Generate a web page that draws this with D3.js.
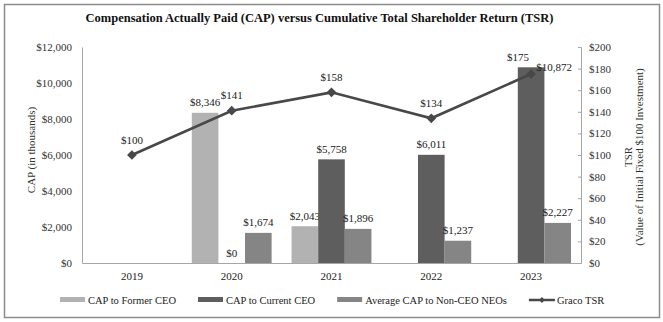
<!DOCTYPE html>
<html>
<head>
<meta charset="utf-8">
<script src="https://cdn.jsdelivr.net/npm/d3@7"></script>
<style>
  body { margin: 0; background: #fff; }
  svg { display: block; font-family: "Liberation Serif", "Times New Roman", serif; }
</style>
</head>
<body>
<div id="chart"></div>
<script>
// chart data
const years = ['2019', '2020', '2021', '2022', '2023'];
const capFormerCeo = [null, 8346, 2043, null, null];
const capCurrentCeo = [null, 0, 5758, 6011, 10872];
const capNonCeo = [null, 1674, 1896, 1237, 2227];
const tsr = [100, 141, 158, 134, 175];
const capTicks = [0, 2000, 4000, 6000, 8000, 10000, 12000];
const tsrTicks = [0, 20, 40, 60, 80, 100, 120, 140, 160, 180, 200];

const W = 663, H = 322;
const margin = {top: 47, right: 82, bottom: 59, left: 82};
const width = W - margin.left - margin.right;
const height = H - margin.top - margin.bottom;

const series = [
  {name: 'CAP to Former CEO', values: capFormerCeo, color: '#b2b2b2'},
  {name: 'CAP to Current CEO', values: capCurrentCeo, color: '#5e5e5e'},
  {name: 'Average CAP to Non-CEO NEOs', values: capNonCeo, color: '#858585'}
];
const lineColor = '#484848';
const fmt = d3.format(',');
const serif = '"Liberation Serif", "Times New Roman", serif';

const svg = d3.select('#chart').append('svg')
  .attr('width', W)
  .attr('height', H);

// frame
svg.append('rect')
  .attr('x', 4.5).attr('y', 4.5)
  .attr('width', W - 8).attr('height', H - 9)
  .attr('fill', '#fff')
  .attr('stroke', '#8c8c8c')
  .attr('stroke-width', 1.5);

svg.append('text')
  .attr('x', W / 2 - 12)
  .attr('y', 22)
  .attr('text-anchor', 'middle')
  .attr('font-size', 12.5)
  .attr('font-weight', 'bold')
  .attr('fill', '#111')
  .text('Compensation Actually Paid (CAP) versus Cumulative Total Shareholder Return (TSR)');

const g = svg.append('g')
  .attr('transform', 'translate(' + margin.left + ',' + margin.top + ')');

const x = d3.scaleBand()
  .domain(years)
  .range([0, width]);

const xInner = d3.scaleBand()
  .domain(series.map(s => s.name))
  .range([x.bandwidth() * 0.1, x.bandwidth() * 0.9]);

const yCap = d3.scaleLinear().domain([0, 12000]).range([height, 0]);
const yTsr = d3.scaleLinear().domain([0, 200]).range([height, 0]);

// left axis
const leftAxis = g.append('g')
  .call(d3.axisLeft(yCap).tickValues(capTicks).tickSize(0).tickPadding(10)
    .tickFormat(d => '$' + fmt(d)));
leftAxis.select('.domain').attr('stroke', '#a6a6a6');
leftAxis.selectAll('text').attr('font-size', 11).attr('fill', '#333')
  .attr('font-family', serif);

// right axis
const rightAxis = g.append('g')
  .attr('transform', 'translate(' + width + ',0)')
  .call(d3.axisRight(yTsr).tickValues(tsrTicks).tickSize(-3).tickPadding(8)
    .tickFormat(d => '$' + d));
rightAxis.select('.domain').attr('stroke', '#a6a6a6');
rightAxis.selectAll('line').attr('stroke', '#a6a6a6');
rightAxis.selectAll('text').attr('font-size', 11).attr('fill', '#333')
  .attr('font-family', serif);

// bottom axis
const bottomAxis = g.append('g')
  .attr('transform', 'translate(0,' + height + ')')
  .call(d3.axisBottom(x).tickSize(0).tickPadding(9));
bottomAxis.select('.domain').attr('stroke', '#a6a6a6');
bottomAxis.selectAll('text').attr('font-size', 11).attr('fill', '#222')
  .attr('font-family', serif);

// axis titles
svg.append('text')
  .attr('transform', 'translate(31,150) rotate(-90)')
  .attr('text-anchor', 'middle')
  .attr('dominant-baseline', 'central')
  .attr('font-size', 11)
  .attr('fill', '#333')
  .text('CAP (in thousands)');

const rt = svg.append('g')
  .attr('transform', 'translate(633,157) rotate(-90)')
  .attr('font-size', 11)
  .attr('fill', '#333');
rt.append('text').attr('y', -5).attr('text-anchor', 'middle')
  .attr('dominant-baseline', 'central').text('TSR');
rt.append('text').attr('y', 6).attr('text-anchor', 'middle')
  .attr('dominant-baseline', 'central').text('(Value of Initial Fixed $100 Investment)');

// bars
series.forEach((s, si) => {
  const data = years.map((yr, i) => ({yr, v: s.values[i], last: i === years.length - 1}))
    .filter(d => d.v !== null);

  g.selectAll('.bar' + si)
    .data(data)
    .enter().append('rect')
    .attr('x', d => x(d.yr) + xInner(s.name))
    .attr('y', d => yCap(d.v))
    .attr('width', xInner.bandwidth())
    .attr('height', d => height - yCap(d.v))
    .attr('fill', s.color);

  g.selectAll('.lbl' + si)
    .data(data)
    .enter().append('text')
    .attr('x', d => {
      const cx = x(d.yr) + xInner(s.name) + xInner.bandwidth() / 2;
      // tallest bar label moved right to clear the TSR label
      return d.last && si === 1 ? cx + 23 : cx;
    })
    .attr('y', d => d.last && si === 1 ? yCap(d.v) + 4 : yCap(d.v) - 6.5)
    .attr('text-anchor', 'middle')
    .attr('font-size', 11)
    .attr('fill', '#222')
    .text(d => '$' + fmt(d.v));
});

// TSR line
const line = d3.line()
  .x((d, i) => x(years[i]) + x.bandwidth() / 2)
  .y(d => yTsr(d));

g.append('path')
  .datum(tsr)
  .attr('fill', 'none')
  .attr('stroke', lineColor)
  .attr('stroke-width', 2.6)
  .attr('d', line);

const diamond = d3.symbol().type(d3.symbolDiamond2).size(60);

g.selectAll('.pt')
  .data(tsr)
  .enter().append('path')
  .attr('transform', (d, i) => 'translate(' + (x(years[i]) + x.bandwidth() / 2) + ',' + yTsr(d) + ')')
  .attr('d', diamond)
  .attr('fill', lineColor);

g.selectAll('.tsrLbl')
  .data(tsr)
  .enter().append('text')
  .attr('x', (d, i) => x(years[i]) + x.bandwidth() / 2 - (i === tsr.length - 1 ? 13 : 0))
  .attr('y', (d, i) => yTsr(d) - (i === tsr.length - 1 ? 13 : 11.5))
  .attr('text-anchor', 'middle')
  .attr('font-size', 11)
  .attr('fill', '#222')
  .text(d => '$' + d);

// legend
const legendItems = series.map(s => ({name: s.name, color: s.color, type: 'bar'}))
  .concat([{name: 'Graco TSR', color: lineColor, type: 'line'}]);

const legend = svg.append('g');
let lx = 0;
legendItems.forEach(item => {
  const it = legend.append('g').attr('transform', 'translate(' + lx + ',0)');
  if (item.type === 'bar') {
    it.append('rect').attr('x', 0).attr('y', -3).attr('width', 25).attr('height', 5)
      .attr('fill', item.color);
  } else {
    it.append('line').attr('x1', 0).attr('x2', 26).attr('y1', 0).attr('y2', 0)
      .attr('stroke', item.color).attr('stroke-width', 2.5);
    it.append('path').attr('transform', 'translate(13,0)')
      .attr('d', d3.symbol().type(d3.symbolDiamond2).size(22)).attr('fill', item.color);
  }
  const t = it.append('text')
    .attr('x', 28)
    .attr('y', 4)
    .attr('font-size', 10.5)
    .attr('fill', '#222')
    .text(item.name);
  lx += 28 + t.node().getComputedTextLength() + 22;
});
lx -= 22;
legend.attr('transform', 'translate(' + (60) + ',300)');
</script>
</body>
</html>
